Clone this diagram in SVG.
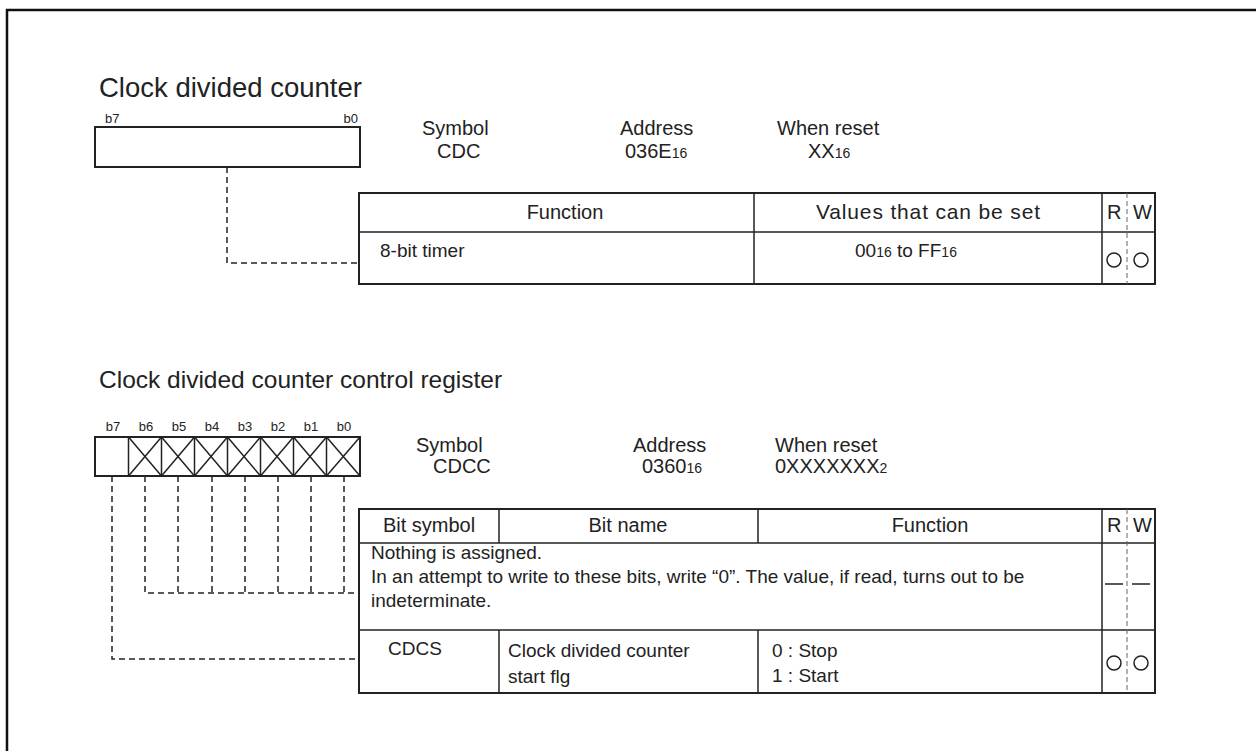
<svg xmlns="http://www.w3.org/2000/svg" width="1256" height="751" viewBox="0 0 1256 751">
<style>
text{font-family:"Liberation Sans",Arial,sans-serif;fill:#222}
.t{font-size:27.5px}
.t2{font-size:24.5px}
.m{font-size:20px}
.h{font-size:20px}
.s{font-size:19px}
.b{font-size:13px}
.sub{font-size:14px}
.box{fill:none;stroke:#222;stroke-width:2}
.ln{stroke:#222;stroke-width:1.5;fill:none}
.dash{stroke:#222;stroke-width:1.5;fill:none;stroke-dasharray:6 4}
.rw{stroke:#666;stroke-width:1;stroke-dasharray:5 3;fill:none}
.circ{fill:none;stroke:#222;stroke-width:1.5}
</style>
<rect x="0" y="0" width="1256" height="751" fill="#fff"/>
<path d="M7,1000 V10 H1300" fill="none" stroke="#111" stroke-width="2.5"/>

<g id="reg1">
<text class="t" x="99" y="97">Clock divided counter</text>
<text class="b" x="105" y="123">b7</text>
<text class="b" x="358" y="123" text-anchor="end">b0</text>
<rect class="box" x="95" y="127" width="265" height="40"/>
</g>

<g id="info1">
<text class="m" x="422" y="135">Symbol</text>
<text class="m" x="437" y="158">CDC</text>
<text class="m" x="620" y="135">Address</text>
<text class="m" x="625" y="158">036E<tspan class="sub">16</tspan></text>
<text class="m" x="777" y="135">When reset</text>
<text class="m" x="808" y="158">XX<tspan class="sub">16</tspan></text>
</g>

<g id="table1">
<rect class="box" x="359" y="193" width="796" height="91"/>
<line class="ln" x1="359" y1="232" x2="1155" y2="232"/>
<line class="ln" x1="754" y1="193" x2="754" y2="284"/>
<line class="ln" x1="1102" y1="193" x2="1102" y2="284"/>
<line class="rw" x1="1127" y1="193" x2="1127" y2="284"/>
<text class="h" x="565" y="219" text-anchor="middle">Function</text>
<text class="h" x="928" y="219" text-anchor="middle" style="font-size:21px" textLength="224" lengthAdjust="spacing">Values that can be set</text>
<text class="h" x="1107" y="219">R</text>
<text class="h" x="1133" y="219">W</text>
<text class="s" x="380" y="257">8-bit timer</text>
<text class="s" x="855" y="257">00<tspan class="sub">16</tspan> to FF<tspan class="sub">16</tspan></text>
<circle class="circ" cx="1114" cy="260" r="7"/>
<circle class="circ" cx="1141" cy="260" r="7"/>
</g>

<g id="reg2">
<text class="t2" x="99" y="388">Clock divided counter control register</text>
<g class="b" text-anchor="middle">
<text x="113" y="431">b7</text><text x="146" y="431">b6</text><text x="179" y="431">b5</text><text x="212" y="431">b4</text>
<text x="245" y="431">b3</text><text x="278" y="431">b2</text><text x="311" y="431">b1</text><text x="344" y="431">b0</text>
</g>
<rect class="box" x="95" y="437" width="265" height="39"/>
<path class="ln" d="M128.5,437V476M161.5,437V476M194.5,437V476M227.5,437V476M260.5,437V476M293.5,437V476M326.5,437V476"/>
<path class="ln" stroke-width="1" d="M128.5,437L161.5,476M161.5,437L128.5,476M161.5,437L194.5,476M194.5,437L161.5,476M194.5,437L227.5,476M227.5,437L194.5,476M227.5,437L260.5,476M260.5,437L227.5,476M260.5,437L293.5,476M293.5,437L260.5,476M293.5,437L326.5,476M326.5,437L293.5,476M326.5,437L360,476M360,437L326.5,476"/>
</g>

<g id="info2">
<text class="m" x="416" y="452">Symbol</text>
<text class="m" x="433" y="473">CDCC</text>
<text class="m" x="633" y="452">Address</text>
<text class="m" x="642" y="473">0360<tspan class="sub">16</tspan></text>
<text class="m" x="775" y="452">When reset</text>
<text class="m" x="775" y="473">0XXXXXXX<tspan class="sub">2</tspan></text>
</g>

<g id="table2">
<rect class="box" x="359" y="509" width="796" height="184"/>
<line class="ln" x1="359" y1="543" x2="1155" y2="543"/>
<line class="ln" x1="359" y1="630" x2="1155" y2="630"/>
<line class="ln" x1="499" y1="509" x2="499" y2="543"/>
<line class="ln" x1="499" y1="630" x2="499" y2="693"/>
<line class="ln" x1="758" y1="509" x2="758" y2="543"/>
<line class="ln" x1="758" y1="630" x2="758" y2="693"/>
<line class="ln" x1="1102" y1="509" x2="1102" y2="693"/>
<line class="rw" x1="1127" y1="509" x2="1127" y2="693"/>
<text class="h" x="429" y="532" text-anchor="middle">Bit symbol</text>
<text class="h" x="628" y="532" text-anchor="middle">Bit name</text>
<text class="h" x="930" y="532" text-anchor="middle">Function</text>
<text class="h" x="1107" y="532">R</text>
<text class="h" x="1133" y="532">W</text>
<text class="s" x="371" y="559">Nothing is assigned.</text>
<text class="s" x="371" y="583">In an attempt to write to these bits, write “0”. The value, if read, turns out to be</text>
<text class="s" x="371" y="607">indeterminate.</text>
<line class="ln" x1="1105" y1="584" x2="1123" y2="584"/>
<line class="ln" x1="1132" y1="584" x2="1150" y2="584"/>
<text class="s" x="388" y="655">CDCS</text>
<text class="s" x="508" y="657">Clock divided counter</text>
<text class="s" x="508" y="683">start flg</text>
<text class="s" x="772" y="657">0 : Stop</text>
<text class="s" x="772" y="682">1 : Start</text>
<circle class="circ" cx="1114" cy="663" r="7"/>
<circle class="circ" cx="1141" cy="663" r="7"/>
</g>

<g id="connectors">
<path class="dash" d="M227,167V263H359"/>
<path class="dash" d="M145,476V593H359M178,476V593M212,476V593M245,476V593M278,476V593M311,476V593M344,476V593"/>
<path class="dash" d="M112,476V659H359"/>
</g>
</svg>
